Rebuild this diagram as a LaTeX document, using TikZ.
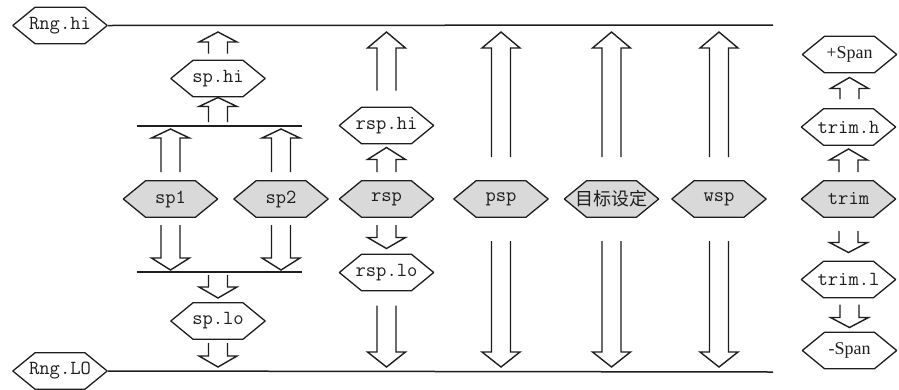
\documentclass[tikz,border=0pt]{standalone}
\usepackage{fontspec}
\usetikzlibrary{calc}
\newfontfamily\cjk{Noto Sans CJK SC}
\newfontfamily\tms{Liberation Serif}
\definecolor{ink}{RGB}{30,30,30}
\definecolor{hexgray}{RGB}{217,217,217}
\newcommand\upArr[3]{\draw[arr] let \p1=#1, \p2=#2 in (\x2-9.5pt,\y1) -- (\x2-9.5pt,\y2-#3) -- (\x2-19pt,\y2-#3) -- (\x2,\y2) -- (\x2+19pt,\y2-#3) -- (\x2+9.5pt,\y2-#3) -- (\x2+9.5pt,\y1);}
\newcommand\dnArr[3]{\draw[arr] let \p1=#1, \p2=#2 in (\x2-9.5pt,\y1) -- (\x2-9.5pt,\y2+#3) -- (\x2-19pt,\y2+#3) -- (\x2,\y2) -- (\x2+19pt,\y2+#3) -- (\x2+9.5pt,\y2+#3) -- (\x2+9.5pt,\y1);}
\begin{document}
\begin{tikzpicture}[x=1pt,y=-1pt,
  font=\ttfamily\fontsize{20}{20}\selectfont,
  arr/.style={draw=ink,line width=1.4pt},
  hline/.style={draw=ink,line width=1.5pt},
  hexbase/.style={minimum width=96pt, minimum height=38pt, inner sep=0pt, outer sep=0pt,
    draw, draw opacity=0, text=ink,
    path picture={\draw[draw=ink, draw opacity=1, line width=1.3pt, fill=#1, line join=bevel]
      ($(path picture bounding box.west)+(0.8,0)$) --
      ($(path picture bounding box.north west)+(23,0.8)$) --
      ($(path picture bounding box.north east)+(-23,0.8)$) --
      ($(path picture bounding box.east)+(-0.8,0)$) --
      ($(path picture bounding box.south east)+(-23,-0.8)$) --
      ($(path picture bounding box.south west)+(23,-0.8)$) -- cycle;}},
  hexw/.style={hexbase=white},
  hexg/.style={hexbase=hexgray}]
\useasboundingbox[fill=white] (0,0) rectangle (899,389);
% nodes
\node[hexw] (rnghi) at (60,25.5) {Rng.hi};
\node[hexw] (rnglo) at (60,371) {Rng.LO};
\node[hexw] (sphi) at (218,78.5) {sp.hi};
\node[hexg] (sp1) at (170.5,199) {sp1};
\node[hexg] (sp2) at (281,199) {sp2};
\node[hexw] (splo) at (218,321) {sp.lo};
\node[hexw] (rsphi) at (386.5,125.5) {rsp.hi};
\node[hexg] (rsp) at (386.5,199) {rsp};
\node[hexw] (rsplo) at (386.5,272.5) {rsp.lo};
\node[hexg] (psp) at (501,199) {psp};
\node[hexg] (mb) at (611.5,199) {\cjk\fontsize{18}{18}\selectfont 目标设定};
\node[hexg] (wsp) at (719,199) {wsp};
\node[hexw] (spanp) at (849.5,54.5) {\tms\fontsize{18}{18}\selectfont +Span};
\node[hexw] (trimh) at (848.5,127) {trim.h};
\node[hexg] (trim) at (848.5,199) {trim};
\node[hexw] (triml) at (848.5,279.5) {trim.l};
\node[hexw] (spanm) at (849.5,350.5) {\tms\fontsize{18}{18}\selectfont -Span};
% horizontal lines
\coordinate (topR) at (773,25);
\coordinate (botR) at (773,372);
\coordinate (bhL) at (137,126);
\coordinate (bhR) at (302,126);
\coordinate (blL) at (137,272);
\coordinate (blR) at (302,272);
\draw[hline] (rnghi.east) -- (topR);
\draw[hline] (rnglo.east) -- (botR);
\draw[hline] (bhL) -- (bhR);
\draw[hline] (blL) -- (blR);
% up arrows
\upArr{([yshift=6pt]sphi.north)}{($(sphi.north |- topR)+(0,7)$)}{10pt}
\upArr{($(sphi.south |- bhL)+(0,-4)$)}{(sphi.south)}{9pt}
\upArr{([yshift=8pt]sp1.north)}{($(sp1.north |- bhL)+(0,3)$)}{9pt}
\upArr{([yshift=8pt]sp2.north)}{($(sp2.north |- bhL)+(0,3)$)}{9pt}
\upArr{([yshift=16pt]rsphi.north)}{($(rsphi.north |- topR)+(0,7)$)}{16pt}
\upArr{([yshift=8pt]rsp.north)}{([yshift=-3pt]rsphi.south)}{12pt}
\upArr{([yshift=23pt]psp.north)}{($(psp.north |- topR)+(0,7)$)}{16pt}
\upArr{([yshift=23pt]mb.north)}{($(mb.north |- topR)+(0,7)$)}{16pt}
\upArr{([yshift=23pt]wsp.north)}{($(wsp.north |- topR)+(0,7)$)}{16pt}
\upArr{([yshift=9pt]trimh.north)}{([yshift=-4pt]spanp.south)}{11pt}
\upArr{([yshift=8pt]trim.north)}{([yshift=-3pt]trimh.south)}{11pt}
% down arrows
\dnArr{([yshift=-7pt]sp1.south)}{($(sp1.south |- blL)+(0,-2)$)}{12pt}
\dnArr{([yshift=-7pt]sp2.south)}{($(sp2.south |- blL)+(0,-2)$)}{12pt}
\dnArr{($(splo.north |- blL)+(0,3)$)}{([yshift=4pt]splo.north)}{11pt}
\dnArr{([yshift=-3pt]splo.south)}{($(splo.south |- botR)+(0,-5)$)}{11pt}
\dnArr{([yshift=-7pt]rsp.south)}{([yshift=5pt]rsplo.north)}{11pt}
\dnArr{([yshift=-14pt]rsplo.south)}{($(rsplo.south |- botR)+(0,-5)$)}{15pt}
\dnArr{([yshift=-23pt]psp.south)}{($(psp.south |- botR)+(0,-5)$)}{15pt}
\dnArr{([yshift=-23pt]mb.south)}{($(mb.south |- botR)+(0,-5)$)}{15pt}
\dnArr{([yshift=-23pt]wsp.south)}{($(wsp.south |- botR)+(0,-5)$)}{15pt}
\dnArr{([yshift=-13pt]trim.south)}{([yshift=8pt]triml.north)}{10pt}
\dnArr{([yshift=-6pt]triml.south)}{([yshift=4pt]spanm.north)}{10pt}
\end{tikzpicture}
\end{document}
